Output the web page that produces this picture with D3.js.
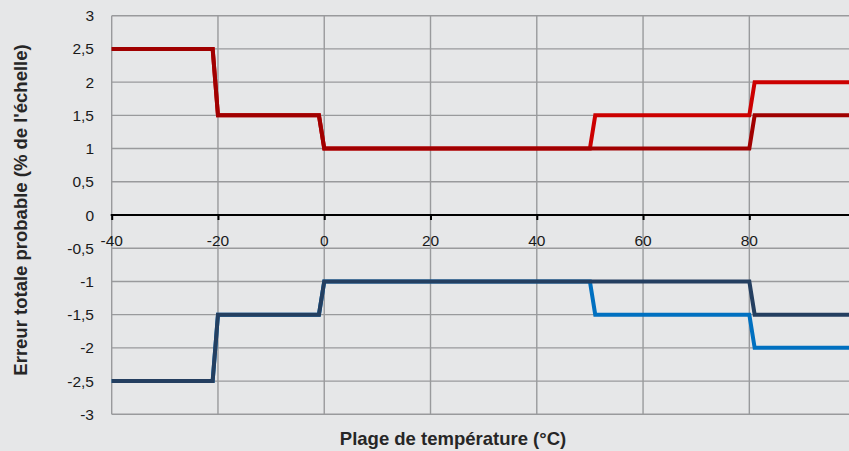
<!DOCTYPE html>
<html><head><meta charset="utf-8">
<script src="https://cdn.jsdelivr.net/npm/d3@7"></script>
<style>html,body{margin:0;padding:0;background:#e6e7e8;}svg{display:block;}</style>
</head><body>
<svg id="c" width="849" height="451"></svg>
<script>
const xTicks = [-40, -20, 0, 20, 40, 60, 80];
const yTicks = [3, 2.5, 2, 1.5, 1, 0.5, 0, -0.5, -1, -1.5, -2, -2.5, -3];
const tempX = [-40, -21, -20, -1, 0, 50, 51, 80, 81, 100];
const upperDark  = [2.5, 2.5, 1.5, 1.5, 1, 1, 1, 1, 1.5, 1.5];
const upperLight = [2.5, 2.5, 1.5, 1.5, 1, 1, 1.5, 1.5, 2, 2];
const lowerDark  = [-2.5, -2.5, -1.5, -1.5, -1, -1, -1, -1, -1.5, -1.5];
const lowerLight = [-2.5, -2.5, -1.5, -1.5, -1, -1, -1.5, -1.5, -2, -2];
const xTitle = "Plage de température (°C)";
const yTitle = "Erreur totale probable (% de l'échelle)";

const svg = d3.select("#c");
const x = d3.scaleLinear().domain([-40, 100]).range([111.7, 855.6]);
const y = d3.scaleLinear().domain([-3, 3]).range([414.3, 15.7]);
const fmt = v => String(v).replace(".", ",");
const FONT = "Liberation Sans, Arial, sans-serif";

svg.append("rect").attr("width", 849).attr("height", 451).attr("fill", "#e6e7e8");

const g = svg.append("g");
g.selectAll(".hg").data(yTicks).join("line")
  .attr("x1", x(-40)).attr("x2", 849)
  .attr("y1", d => y(d)).attr("y2", d => y(d))
  .attr("stroke", "#999a9c").attr("stroke-width", 1.4);
g.selectAll(".vg").data(xTicks).join("line")
  .attr("x1", d => x(d)).attr("x2", d => x(d))
  .attr("y1", y(3)).attr("y2", y(-3))
  .attr("stroke", "#999a9c").attr("stroke-width", 1.4);

g.selectAll(".yl").data(yTicks).join("text")
  .attr("x", 94).attr("y", d => y(d) + 5.5)
  .attr("text-anchor", "end")
  .attr("font-family", FONT).attr("font-size", 15.5)
  .attr("fill", "#1a1a1a").text(fmt);

const series = [
  {vals: upperLight, color: "#cc0000"},
  {vals: upperDark, color: "#a00000"},
  {vals: lowerLight, color: "#0070c0"},
  {vals: lowerDark, color: "#243f60"}
];
const line = d3.line().x(d => x(d[0])).y(d => y(d[1]));
series.forEach(s => {
  svg.append("path")
    .datum(tempX.map((t, i) => [t, s.vals[i]]))
    .attr("d", line).attr("fill", "none")
    .attr("stroke", s.color).attr("stroke-width", 4)
    .attr("stroke-linejoin", "miter");
});

const xAxis = d3.axisBottom(x).tickValues(xTicks).tickSize(5).tickFormat("");
const ax = svg.append("g").attr("transform", `translate(0,${y(0)})`).call(xAxis);
ax.select(".domain").remove();
ax.selectAll(".tick line").attr("stroke", "#000").attr("stroke-width", 2);
svg.append("line").attr("x1", x(-40) - 1).attr("x2", 849)
  .attr("y1", y(0)).attr("y2", y(0)).attr("stroke", "#000").attr("stroke-width", 2.2);

svg.selectAll(".xl").data(xTicks).join("text")
  .attr("x", d => x(d)).attr("y", y(0) + 31)
  .attr("text-anchor", "middle")
  .attr("font-family", FONT).attr("font-size", 15.5)
  .attr("fill", "#1a1a1a").text(d => d);

svg.append("text").attr("x", 453).attr("y", 445)
  .attr("text-anchor", "middle").attr("font-family", FONT)
  .attr("font-size", 18.5).attr("font-weight", "bold").attr("fill", "#262626").text(xTitle);
svg.append("text").attr("transform", "translate(27,210) rotate(-90)")
  .attr("text-anchor", "middle").attr("font-family", FONT)
  .attr("font-size", 18.5).attr("font-weight", "bold").attr("fill", "#262626").text(yTitle);
</script>
</body></html>
